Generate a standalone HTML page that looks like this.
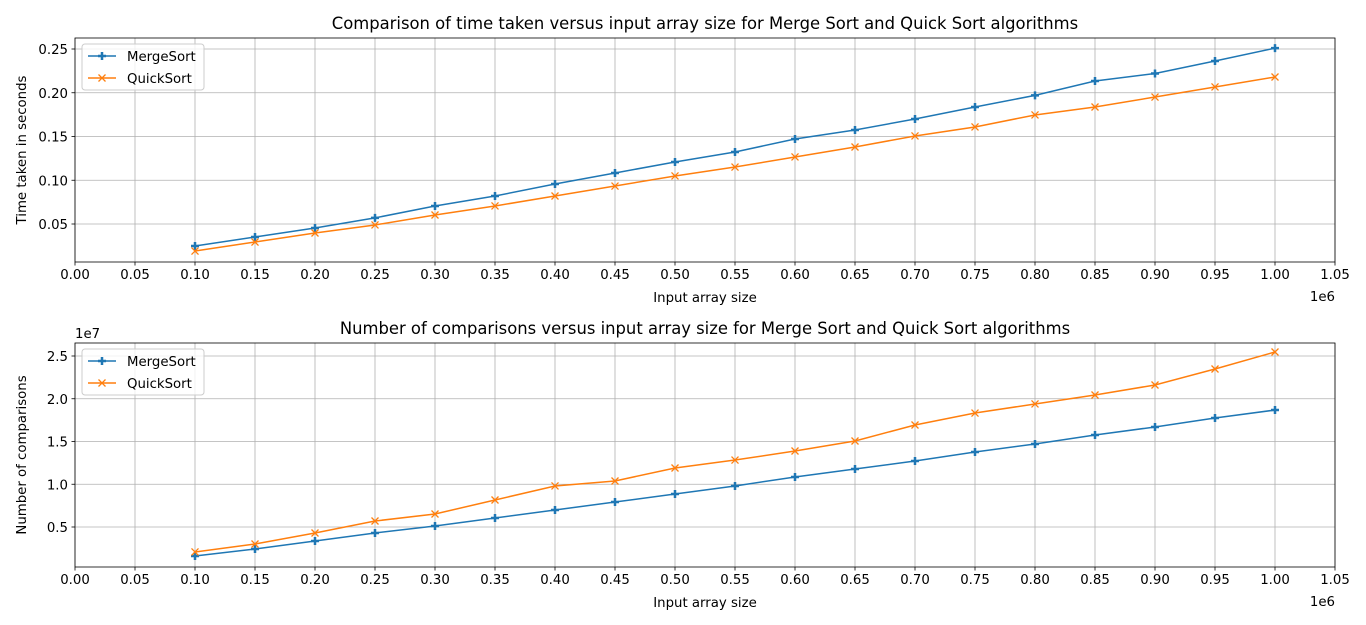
<!DOCTYPE html>
<html><head><meta charset="utf-8"><style>
body{margin:0;background:#fff;font-family:"Liberation Sans","DejaVu Sans",sans-serif}
svg{display:block}
text{font-family:"DejaVu Sans","Liberation Sans",sans-serif;fill:#000}
</style></head><body>
<svg id="c" width="1366" height="625"></svg>
<script>
const sizes=[0.1,0.15,0.2,0.25,0.3,0.35,0.4,0.45,0.5,0.55,0.6,0.65,0.7,0.75,0.8,0.85,0.9,0.95,1.0];
const timeMerge=[0.0249,0.0351,0.0454,0.057,0.0706,0.082,0.0957,0.1083,0.1209,0.1323,0.1471,0.1574,0.17,0.1837,0.197,0.2134,0.222,0.2363,0.251];
const timeQuick=[0.0191,0.0294,0.0397,0.0489,0.0603,0.0706,0.082,0.0934,0.1049,0.1151,0.1266,0.138,0.1506,0.1609,0.1746,0.1837,0.1951,0.2066,0.218];
const cmpMerge=[0.161,0.243,0.336,0.43,0.512,0.605,0.699,0.792,0.886,0.98,1.085,1.178,1.272,1.377,1.471,1.576,1.67,1.775,1.868];
const cmpQuick=[0.208,0.301,0.43,0.57,0.652,0.816,0.98,1.038,1.19,1.283,1.389,1.506,1.693,1.833,1.939,2.044,2.161,2.348,2.547];
const xTicks=[0,0.05,0.1,0.15,0.2,0.25,0.3,0.35,0.4,0.45,0.5,0.55,0.6,0.65,0.7,0.75,0.8,0.85,0.9,0.95,1.0,1.05];
const yTicksTime=[0.05,0.10,0.15,0.20,0.25];
const yTicksCmp=[0.5,1.0,1.5,2.0,2.5];
const NS="http://www.w3.org/2000/svg";
const svg=document.getElementById('c');
const FS=13.3, TFS=16.4;
function mk(tag,attrs,parent,txt){const e=document.createElementNS(NS,tag);for(const k in attrs)e.setAttribute(k,attrs[k]);if(txt!==undefined)e.textContent=txt;(parent||svg).appendChild(e);return e;}
function panel(cfg){
  const L=75,R=1335,T=cfg.top,B=cfg.top+224;
  const g=mk('g',{});
  
  
  const xs=v=>L+(v-0)/(1.05)*(R-L);
  const ys=v=>cfg.y0px - v*cfg.ppu;
  xTicks.forEach(t=>{
    const x=xs(t);
    const gl=mk('line',{x1:x,x2:x,y1:T,y2:B,stroke:'#b0b0b0','stroke-width':0.8},g);
    
    mk('line',{x1:x,x2:x,y1:B,y2:B+3.5,stroke:'#000','stroke-width':0.8},g);
    const tl=mk('text',{x:x,y:B+17,'font-size':FS,'text-anchor':'middle'},g,t.toFixed(2));
    
  });
  cfg.yTicks.forEach(t=>{
    const y=ys(t);
    const gl=mk('line',{x1:L,x2:R,y1:y,y2:y,stroke:'#b0b0b0','stroke-width':0.8},g);
    
    mk('line',{x1:L-3.5,x2:L,y1:y,y2:y,stroke:'#000','stroke-width':0.8},g);
    const tl=mk('text',{x:L-7,y:y+5,'font-size':FS,'text-anchor':'end'},g,t.toFixed(cfg.dec));
    
  });
  const fr=mk('rect',{x:L,y:T,width:R-L,height:B-T,fill:'none',stroke:'#000','stroke-width':0.8},g);
  
  const series=[{d:cfg.merge,c:'#1f77b4',m:'+',n:'mergesort-line'},{d:cfg.quick,c:'#ff7f0e',m:'x',n:'quicksort-line'}];
  series.forEach(s=>{
    const pts=sizes.map((v,i)=>xs(v)+','+ys(s.d[i])).join(' ');
    const pl=mk('polyline',{points:pts,fill:'none',stroke:s.c,'stroke-width':1.5},g);
    
    sizes.forEach((v,i)=>{
      const x=xs(v),y=ys(s.d[i]);
      const p=s.m==='+'?`M${x-4} ${y}H${x+4}M${x} ${y-4}V${y+4}`:`M${x-3.5} ${y-3.5}L${x+3.5} ${y+3.5}M${x-3.5} ${y+3.5}L${x+3.5} ${y-3.5}`;
      const mp=mk('path',{d:p,stroke:s.c,'stroke-width':s.m==='+'?2.5:1.3},g);
      
    });
  });
  const ti=mk('text',{x:705,y:T-9,'font-size':TFS,'text-anchor':'middle'},g,cfg.title);
  
  const xl=mk('text',{x:705,y:B+40,'font-size':FS,'text-anchor':'middle'},g,'Input array size');
  
  const ex=mk('text',{x:1335,y:B+39,'font-size':FS,'text-anchor':'end'},g,'1e6');
  
  const yl=mk('text',{x:0,y:0,'font-size':FS,'text-anchor':'middle',transform:`translate(26,${(T+B)/2}) rotate(-90)`},g,cfg.ylabel);
  
  if(cfg.yexp){const ye=mk('text',{x:L,y:T-5,'font-size':FS},g,cfg.yexp);}
  const lg=mk('g',{},g);
  
  mk('rect',{x:82,y:T+6,width:122,height:46,rx:3,fill:'#fff','fill-opacity':0.8,stroke:'#ccc'},lg);
  [['MergeSort','#1f77b4','+'],['QuickSort','#ff7f0e','x']].forEach((e,i)=>{
    const y=T+18+i*22;
    const en=mk('g',{},lg);
    
    mk('line',{x1:88,x2:116,y1:y,y2:y,stroke:e[1],'stroke-width':1.5},en);
    const x=102;
    const p=e[2]==='+'?`M${x-4} ${y}H${x+4}M${x} ${y-4}V${y+4}`:`M${x-3.5} ${y-3.5}L${x+3.5} ${y+3.5}M${x-3.5} ${y+3.5}L${x+3.5} ${y-3.5}`;
    mk('path',{d:p,stroke:e[1],'stroke-width':e[2]==='+'?2.5:1.3},en);
    mk('text',{x:127,y:y+5,'font-size':FS},en,e[0]);
  });
}
panel({name:'time-panel',top:38,y0px:267.75,ppu:875,yTicks:yTicksTime,dec:2,merge:timeMerge,quick:timeQuick,
  title:'Comparison of time taken versus input array size for Merge Sort and Quick Sort algorithms',ylabel:'Time taken in seconds'});
panel({name:'comparisons-panel',top:343,y0px:569.75,ppu:85.5,yTicks:yTicksCmp,dec:1,merge:cmpMerge,quick:cmpQuick,
  title:'Number of comparisons versus input array size for Merge Sort and Quick Sort algorithms',ylabel:'Number of comparisons',yexp:'1e7'});
</script>
</body></html>
